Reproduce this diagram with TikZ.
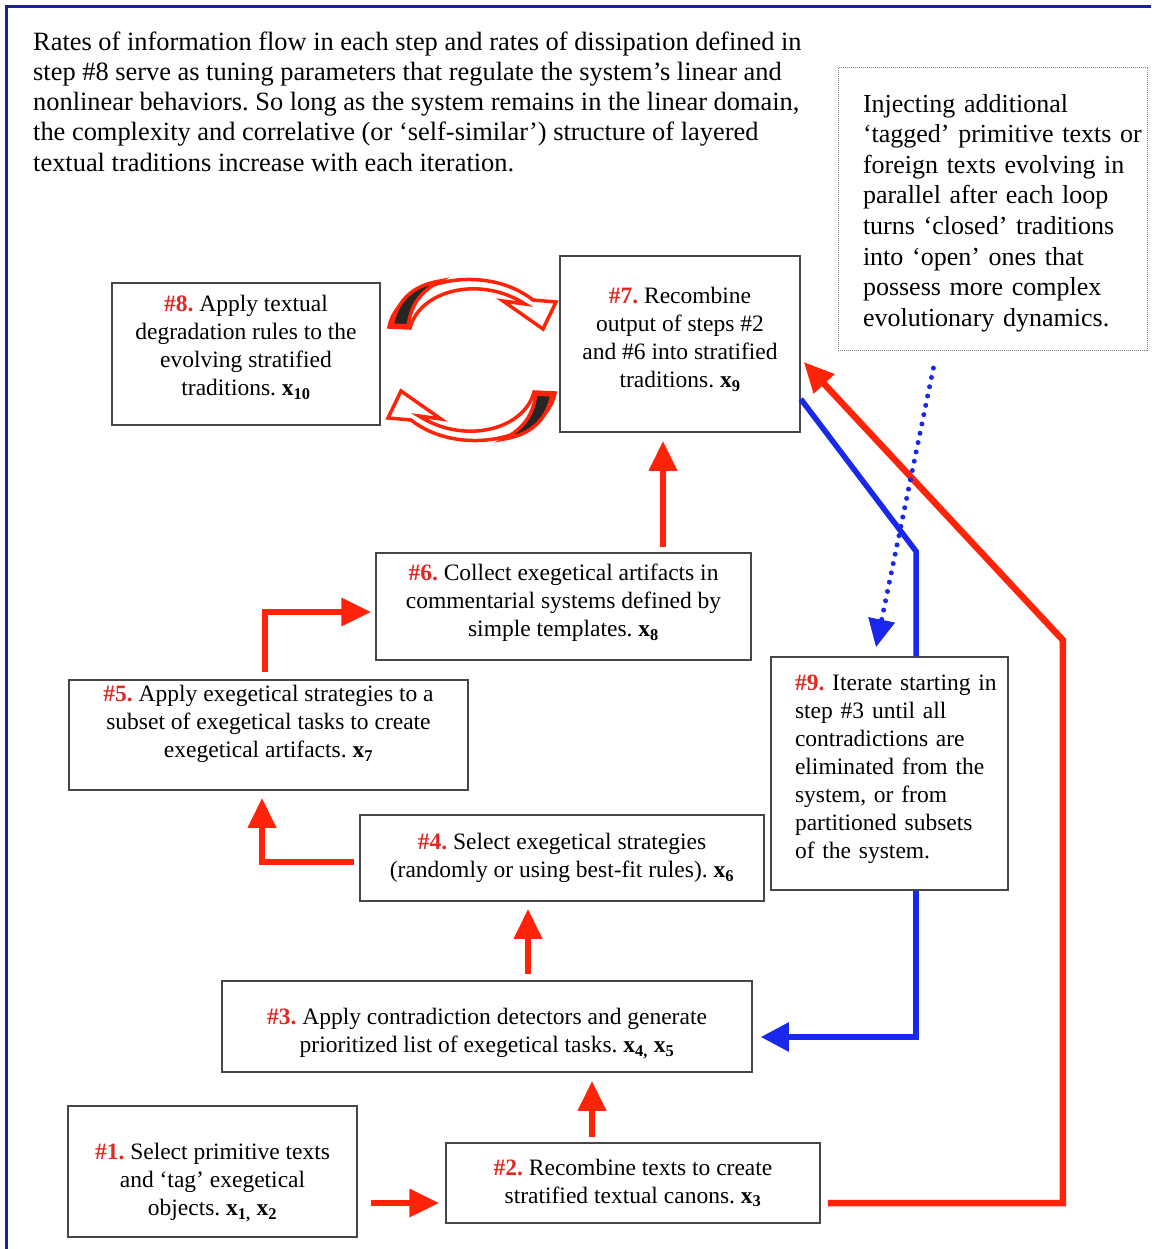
\documentclass[tikz,border=0pt]{standalone}
\usepackage{fontspec}
\setmainfont{Liberation Serif}
\usepackage{tikz}
\usetikzlibrary{arrows.meta}
\definecolor{stepred}{RGB}{225,40,35}
\definecolor{flowred}{RGB}{255,35,10}
\definecolor{flowblue}{RGB}{25,40,235}
\definecolor{frameblue}{RGB}{25,35,150}
\definecolor{boxgray}{RGB}{70,70,70}
\newcommand \hnum [1] {\textcolor{stepred}{\textbf{\##1.}}}
\newcommand \xv [1] {\textbf{x\textsubscript{#1}}}
\newcommand \padlow [1] {\rule[-#1]{0pt}{#1}}
\newcommand \padhigh [1] {\rule{0pt}{#1}}
\tikzstyle{stepbox}=[rectangle,draw=boxgray,line width=1.5pt,inner sep=0pt,align=center,font=\fontsize{23.5}{28}\selectfont]
\tikzstyle{notebox}=[rectangle,draw=gray,densely dotted,line width=1pt,inner xsep=25pt,inner ysep=0pt,align=left,font=\fontsize{26}{30.6}\selectfont]
\tikzstyle{redarrow}=[draw=flowred,line width=6.5pt,-{Triangle[length=30pt,width=27pt]}]
\tikzstyle{blueline}=[draw=flowblue,line width=5.5pt]
\tikzstyle{bluearrow}=[draw=flowblue,line width=5.5pt,-{Triangle[length=28pt,width=28pt]}]
\tikzstyle{bluedots}=[draw=flowblue,line width=5pt,line cap=round,dash pattern=on 0pt off 9.5pt,-{Triangle[length=28pt,width=26pt]}]
\tikzstyle{loopshape}=[fill=white,draw=flowred,line width=3.5pt,line join=miter]
\newcommand\recycle{%
  \filldraw[loopshape] (389,327) .. controls (398,280) and (485,262) .. (533,300)
    -- (556,302) -- (543,329) -- (503,301) -- (525,304)
    .. controls (480,275) and (420,290) .. (410,328) -- cycle;
  \filldraw[loopshape,fill=black!85] (392,325) .. controls (398,298) and (415,285) .. (440,281)
    .. controls (420,292) and (411,305) .. (408,326) -- cycle;
}

\begin{document}
\frenchspacing
\begin{tikzpicture}[x=1pt,y=-1pt]
  \useasboundingbox (0,0) rectangle (1151,1249);
  \draw[frameblue,line width=3pt] (6.5,1249) -- (6.5,6.5) -- (1151,6.5);

  \node[align=left,inner sep=0pt,anchor=west,font=\fontsize{26.4}{30.3}\selectfont] at (33,101.5) (intro)
    {Rates of information flow in each step and rates of dissipation defined in\\
     step \#8 serve as tuning parameters that regulate the system’s linear and\\
     nonlinear behaviors. So long as the system remains in the linear domain,\\
     the complexity and correlative (or ‘self-similar’) structure of layered\\
     textual traditions increase with each iteration.};

  \node[stepbox,minimum width=268pt,minimum height=142pt] at (246,354) (s8)
    {\hnum{8} Apply textual\\ degradation rules to the\\ evolving stratified\\ traditions. \xv{10}\padlow{17pt}};
  \node[stepbox,minimum width=240pt,minimum height=176pt] at (680,344) (s7)
    {\hnum{7} Recombine\\ output of steps \#2\\ and \#6 into stratified\\ traditions. \xv{9}\padlow{13pt}};
  \node[notebox,text width=259pt,minimum height=282pt] at (992.5,209) (note)
    {\padhigh{26pt}Injecting additional\\ \mbox{‘tagged’ primitive texts or}\\ \mbox{foreign texts evolving in}\\ \mbox{parallel after each loop}\\
     \mbox{turns ‘closed’ traditions}\\ into ‘open’ ones that\\ possess more complex\\ \mbox{evolutionary dynamics.}};
  \node[stepbox,minimum width=375pt,minimum height=107pt] at (563.5,606.5) (s6)
    {\hnum{6} Collect exegetical artifacts in\\ commentarial systems defined by\\ simple templates. \xv{8}\padlow{13pt}};
  \node[stepbox,minimum width=399pt,minimum height=110pt] at (268.5,735) (s5)
    {\hnum{5} Apply exegetical strategies to a\\ subset of exegetical tasks to create\\ exegetical artifacts. \xv{7}\padlow{27pt}};
  \node[stepbox,minimum width=404pt,minimum height=86pt] at (562,858) (s4)
    {\hnum{4} Select exegetical strategies\\ (randomly or using best-fit rules). \xv{6}};
  \node[stepbox,align=left,text width=189pt,inner xsep=24pt,minimum height=233pt] at (889.5,773.5) (s9)
    {\mbox{\hnum{9} Iterate starting in}\\ step \#3 until all\\ contradictions are\\ \mbox{eliminated from the}\\
     system, or from\\ \mbox{partitioned subsets}\\ of the system.\padlow{13pt}};
  \node[stepbox,minimum width=530pt,minimum height=91pt] at (487,1026.5) (s3)
    {\padhigh{30pt}\hnum{3} Apply contradiction detectors and generate\\ prioritized list of exegetical tasks. \xv{4,} \xv{5}};
  \node[stepbox,minimum width=289pt,minimum height=131pt] at (212.5,1171.5) (s1)
    {\padhigh{38pt}\hnum{1} Select primitive texts\\ and ‘tag’ exegetical\\ objects. \xv{1,} \xv{2}};
  \node[stepbox,minimum width=374pt,minimum height=80pt] at (633,1183) (s2)
    {\hnum{2} Recombine texts to create\\ stratified textual canons. \xv{3}};

  % main flow
  \draw[redarrow,shorten <=13pt,shorten >=6pt] ([yshift=-31.5pt]s1.east) -- ([yshift=-20pt]s2.west);
  \draw[redarrow,shorten <=5pt,shorten >=8pt] ([xshift=-41pt]s2.north) -- ([xshift=-41pt]s2.north |- s3.south);
  \draw[redarrow,shorten <=6pt,shorten >=7pt] ([xshift=41pt]s3.north) -- ([xshift=41pt]s3.north |- s4.south);
  \draw[redarrow,shorten <=5pt,shorten >=7pt] ([yshift=-4pt]s4.west) -| ([xshift=-6.5pt]s5.south);
  \draw[redarrow,shorten <=7pt,shorten >=4pt] ([xshift=-3.5pt]s5.north) |- ([yshift=-5.5pt]s6.west);
  \draw[redarrow,shorten <=5pt,shorten >=8pt] ([xshift=99.5pt]s6.north) -- ([xshift=99.5pt]s6.north |- s7.south);
  \draw[redarrow,line join=miter,shorten <=7pt] ([yshift=-20pt]s2.east) -- ++(242,0) -- ++(0,-563)
    -- ([xshift=3pt,yshift=-18pt]s7.east);

  % feedback through #9
  \draw[blueline] ([yshift=-55pt]s7.east) -- ([xshift=26.5pt,yshift=105pt]s9.north) -- ([xshift=26.5pt]s9.north);
  \draw[bluearrow,shorten >=8pt] ([xshift=26.5pt]s9.south) |- ([yshift=-10.5pt]s3.east);
  \draw[bluedots,shorten <=18pt] ([xshift=-55.5pt]note.south) -- ([xshift=-13.5pt,yshift=9pt]s9.north);

  % loop between #8 and #7
  \recycle
  \begin{scope}[rotate around={180:(472,360)}]
    \recycle
  \end{scope}
\end{tikzpicture}
\end{document}
